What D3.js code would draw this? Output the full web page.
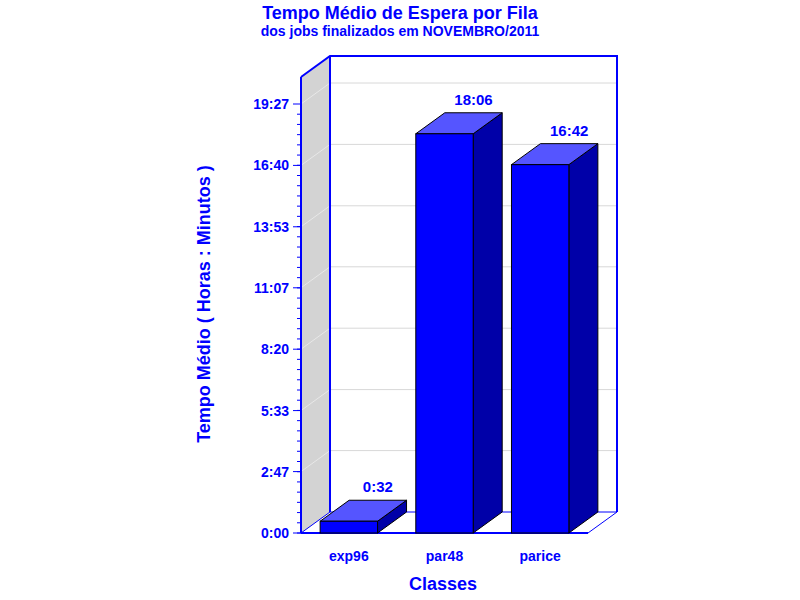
<!DOCTYPE html><html><head><meta charset="utf-8"><script src="https://cdn.jsdelivr.net/npm/d3@7"></script>
<style>body{margin:0;background:#fff}text{font-family:Arial,"Liberation Sans",sans-serif;font-weight:bold;fill:#0000ff}</style></head><body>
<script>
const categories=["exp96","par48","parice"];
const values=[32,1086,1002]; // minutes
const labels=["0:32","18:06","16:42"];
const tickValues=[0,167,333,500,667,833,1000,1167];
const tickLabels=["0:00","2:47","5:33","8:20","11:07","13:53","16:40","19:27"];
const W=800,H=600,x0=301,x1=588,y0=533,dx=29,dy=-21;
const svg=d3.select("body").append("svg").attr("width",W).attr("height",H);
const y=d3.scaleLinear().domain([0,1167]).range([y0,104]);
const x=d3.scaleBand().domain(categories).range([x0,x1]).paddingInner(0.4).paddingOuter(0.2);
const topY=56-dy;
// left wall
svg.append("path").attr("d",`M${x0},${y0}L${x0+dx},${y0+dy}L${x0+dx},${topY+dy}L${x0},${topY}Z`).attr("fill","#d3d3d3");
// gridlines
tickValues.slice(1).forEach(v=>{
 svg.append("line").attr("x1",x0+dx).attr("x2",x1+dx).attr("y1",y(v)+dy).attr("y2",y(v)+dy).attr("stroke","#d8d8d8");
 svg.append("line").attr("x1",x0).attr("x2",x0+dx).attr("y1",y(v)).attr("y2",y(v)+dy).attr("stroke","#e8e8e8");
});
// frame
const b="#0000ff";
svg.append("path").attr("d",`M${x0},${topY}L${x0+dx},${topY+dy}L${x1+dx},${topY+dy}L${x1+dx},${y0+dy}`).attr("fill","none").attr("stroke",b).attr("stroke-width",2);
svg.append("line").attr("x1",x0+dx).attr("x2",x0+dx).attr("y1",topY+dy).attr("y2",y0+dy).attr("stroke",b).attr("stroke-width",2);
svg.append("path").attr("d",`M${x0},${y0}L${x0+dx},${y0+dy}L${x1+dx},${y0+dy}L${x1},${y0}`).attr("fill","none").attr("stroke",b).attr("stroke-width",1);
svg.append("line").attr("x1",x0).attr("x2",x1).attr("y1",y0).attr("y2",y0).attr("stroke",b).attr("stroke-width",2);
svg.append("line").attr("x1",x0).attr("x2",x0).attr("y1",topY).attr("y2",y0).attr("stroke",b).attr("stroke-width",2);
// y axis ticks
const minor=d3.range(0,1167,1167/42);
minor.forEach(v=>svg.append("line").attr("x1",x0-4).attr("x2",x0).attr("y1",y(v)).attr("y2",y(v)).attr("stroke",b));
tickValues.forEach((v,i)=>{
 svg.append("line").attr("x1",x0-8).attr("x2",x0).attr("y1",y(v)).attr("y2",y(v)).attr("stroke",b);
 svg.append("text").attr("x",x0-12).attr("y",y(v)+5).attr("text-anchor","end").attr("font-size",14).text(tickLabels[i]);
});
// bars
categories.forEach((c,i)=>{
 const l=x(c),r=l+x.bandwidth(),t=y(values[i]);
 svg.append("path").attr("d",`M${r},${y0}L${r+dx},${y0+dy}L${r+dx},${t+dy}L${r},${t}Z`).attr("fill","#0000a8").attr("stroke","#000");
 svg.append("path").attr("d",`M${l},${t}L${l+dx},${t+dy}L${r+dx},${t+dy}L${r},${t}Z`).attr("fill","#5555ff").attr("stroke","#000");
 svg.append("rect").attr("x",l).attr("y",t).attr("width",x.bandwidth()).attr("height",y0-t).attr("fill","#0000ff").attr("stroke","#000");
 svg.append("text").attr("x",(l+r)/2+dx).attr("y",t+dy-8).attr("text-anchor","middle").attr("font-size",15).text(labels[i]);
 svg.append("text").attr("x",(l+r)/2).attr("y",561).attr("text-anchor","middle").attr("font-size",14).text(c);
});
svg.append("text").attr("x",400).attr("y",19).attr("text-anchor","middle").attr("font-size",18).text("Tempo Médio de Espera por Fila");
svg.append("text").attr("x",400).attr("y",36).attr("text-anchor","middle").attr("font-size",14).text("dos jobs finalizados em NOVEMBRO/2011");
svg.append("text").attr("x",443).attr("y",590).attr("text-anchor","middle").attr("font-size",18).text("Classes");
svg.append("text").attr("transform","translate(210,304) rotate(-90)").attr("text-anchor","middle").attr("font-size",18).text("Tempo Médio ( Horas : Minutos )");
</script></body></html>
